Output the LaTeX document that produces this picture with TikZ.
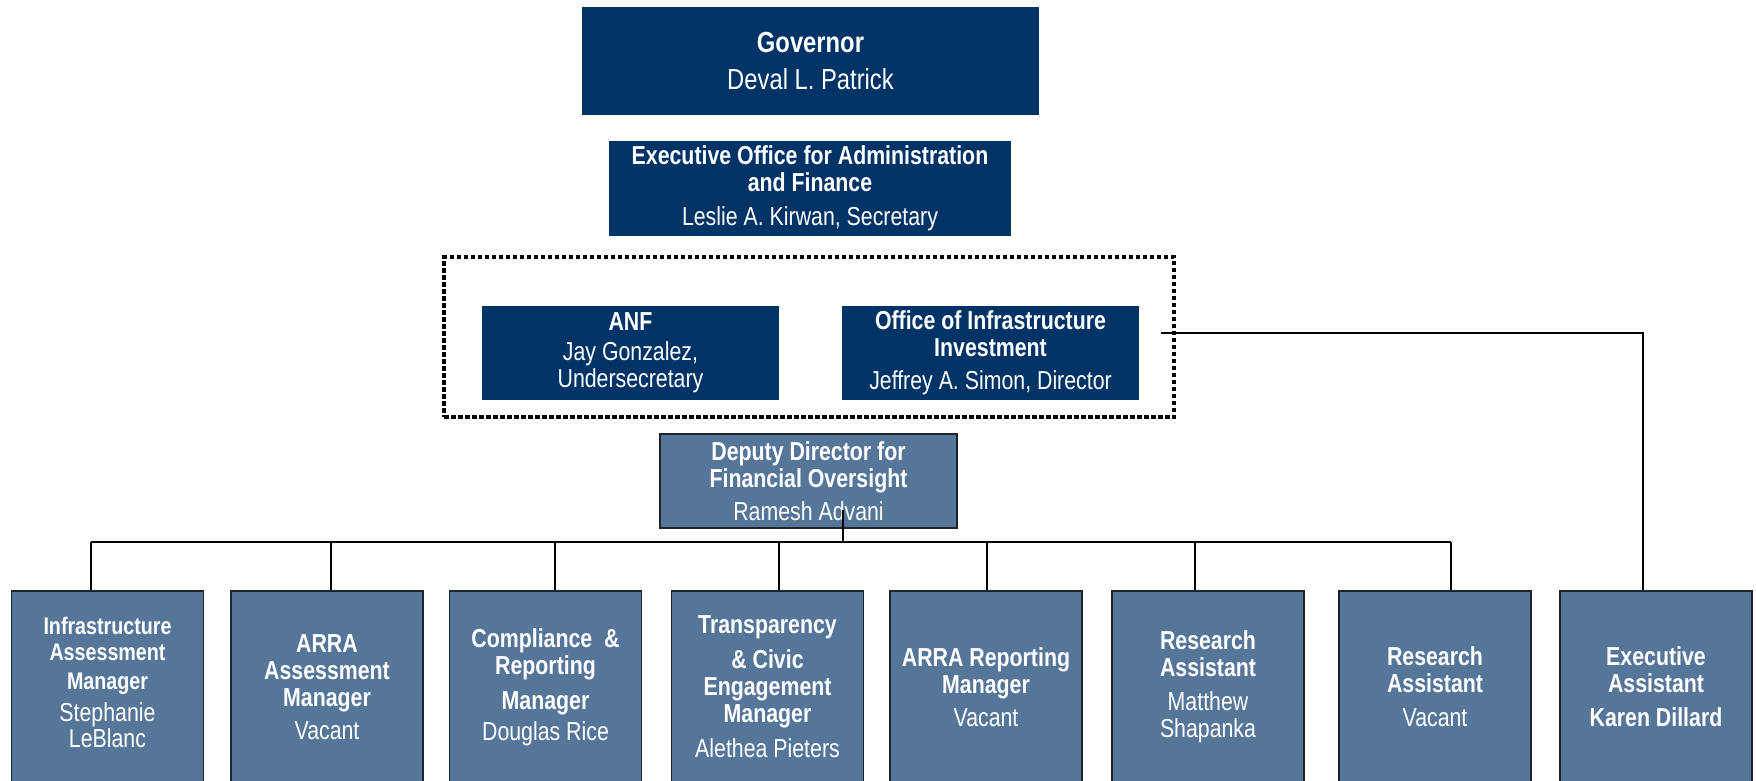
\documentclass[tikz,border=0pt]{standalone}
\usepackage{fontspec}
\setmainfont[FakeStretch=0.82]{Liberation Sans}
\definecolor{navy}{RGB}{0,51,102}
\definecolor{steel}{RGB}{85,118,153}
\definecolor{edge}{RGB}{30,35,45}
\begin{document}
\begin{tikzpicture}[x=1pt,y=-1pt,
  darkbox/.style={fill=navy,text=white,inner sep=0pt,align=center,font=\fontsize{26}{27}\selectfont},
  lightbox/.style={fill=steel,draw=edge,line width=1.5pt,text=white,inner sep=0pt,align=center,font=\fontsize{26}{27}\selectfont},
  staffbox/.style={lightbox,minimum width=192pt,minimum height=192pt},
  boxtext/.style={text=white,inner sep=0pt,align=center,font=\fontsize{26}{27}\selectfont},
  link/.style={draw=black,line width=2pt},
  groupframe/.style={draw=black,line width=3.5pt,dash pattern=on 4.5pt off 2.5pt,inner sep=0pt}]
\useasboundingbox (0,0) rectangle (1756,781);
\clip (0,0) rectangle (1756,781);

% top
\node[darkbox,minimum width=457pt,minimum height=108pt,font=\fontsize{29}{31}\selectfont] (gov) at (810.5,61)
  {\textbf{Governor}\\[6pt]Deval L. Patrick};
\node[darkbox,minimum width=402pt,minimum height=95pt] (exec) at (810,188.5)
  {\textbf{Executive Office for Administration}\\\textbf{and Finance}\\[7pt]Leslie A. Kirwan, Secretary};

\node[groupframe,minimum width=730pt,minimum height=160pt] (grp) at (809,337) {};
\node[darkbox,minimum width=297pt,minimum height=94pt] (anf) at (630.5,353)
  {\textbf{ANF}\\[3pt]Jay Gonzalez,\\Undersecretary};
\node[darkbox,minimum width=297pt,minimum height=94pt] (oii) at (990.5,353)
  {\textbf{Office of Infrastructure}\\\textbf{Investment}\\[6pt]Jeffrey A. Simon, Director};

\node[lightbox,minimum width=297pt,minimum height=94pt] (dep) at (808.5,481)
  {\textbf{Deputy Director for}\\\textbf{Financial Oversight}\\[6pt]Ramesh Advani};

% staff
\node[staffbox] (b1) at (107.5,687) {};
\node[boxtext,font=\fontsize{24}{26}\selectfont] (b1t) at ([yshift=5pt]b1.center)
  {\textbf{Infrastructure}\\\textbf{Assessment}\\[3pt]\textbf{Manager}\\[6pt]{\fontsize{26}{27}\selectfont Stephanie}\\{\fontsize{26}{27}\selectfont LeBlanc}};
\node[staffbox] (b2) at (327,687)
  {\textbf{ARRA}\\\textbf{Assessment}\\\textbf{Manager}\\[6pt]Vacant};
\node[staffbox] (b3) at (545.5,687)
  {\textbf{Compliance\ \ \&}\\\textbf{Reporting}\\[8pt]\textbf{Manager}\\[4pt]Douglas Rice};
\node[staffbox] (b4) at (767.5,687)
  {\textbf{Transparency}\\[8pt]\textbf{\& Civic}\\\textbf{Engagement}\\\textbf{Manager}\\[8pt]Alethea Pieters};
\node[staffbox] (b5) at (986,687)
  {\textbf{ARRA Reporting}\\\textbf{Manager}\\[6pt]Vacant};
\node[staffbox] (b6) at (1208,687)
  {\textbf{Research}\\\textbf{Assistant}\\[7pt]Matthew\\Shapanka};
\node[staffbox] (b7) at (1435,687)
  {\textbf{Research}\\\textbf{Assistant}\\[7pt]Vacant};
\node[staffbox] (b8) at (1656,687)
  {\textbf{Executive}\\\textbf{Assistant}\\[7pt]\textbf{Karen Dillard}};

% connectors
\coordinate (busL) at (91,542);
\coordinate (busR) at (1451,542);
\coordinate (depout) at ([xshift=34.5pt,yshift=-29pt]dep.center);
\coordinate (oiiout) at ([xshift=22pt,yshift=20pt]oii.east);

\draw[link] (busL) -- (busR);
\draw[link] (depout) -- (depout |- busL);
\draw[link] ([xshift=-16.5pt]b1.north) -- ([xshift=-16.5pt]b1.north |- busL);
\draw[link] ([xshift=4pt]b2.north) -- ([xshift=4pt]b2.north |- busL);
\draw[link] ([xshift=9.5pt]b3.north) -- ([xshift=9.5pt]b3.north |- busL);
\draw[link] ([xshift=11.5pt]b4.north) -- ([xshift=11.5pt]b4.north |- busL);
\draw[link] ([xshift=1pt]b5.north) -- ([xshift=1pt]b5.north |- busL);
\draw[link] ([xshift=-13pt]b6.north) -- ([xshift=-13pt]b6.north |- busL);
\draw[link] ([xshift=16pt]b7.north) -- ([xshift=16pt]b7.north |- busL);
\draw[link] (oiiout) -| ([xshift=-13pt]b8.north);
\end{tikzpicture}
\end{document}
